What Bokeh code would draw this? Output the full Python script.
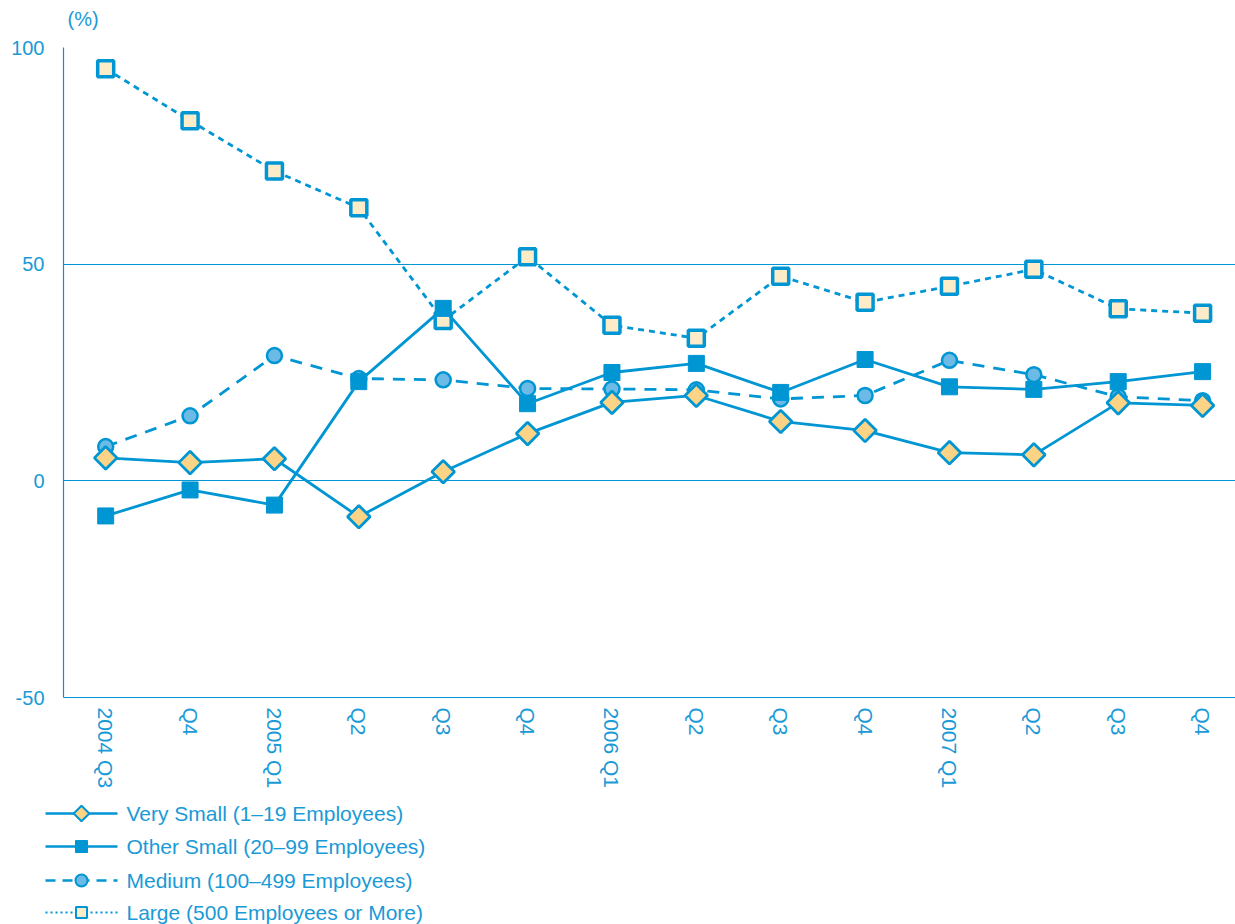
import numpy as np
from bokeh.plotting import figure
from bokeh.layouts import column
from bokeh.models import FixedTicker, ColumnDataSource
from bokeh.core.properties import value
from bokeh.embed import file_html
from bokeh.resources import INLINE

quarters = ["2004 Q3", "Q4", "2005 Q1", "Q2", "Q3", "Q4", "2006 Q1", "Q2", "Q3", "Q4",
            "2007 Q1", "Q2", "Q3", "Q4"]
very_small = [5.3, 4.2, 5.1, -8.3, 2.1, 10.9, 18.1, 19.7, 13.7, 11.6, 6.5, 6.0, 18.0, 17.4]
other_small = [-8.1, -2.1, -5.6, 22.9, 39.8, 17.8, 25.0, 27.1, 20.4, 28.0, 21.7, 21.1, 22.9, 25.2]
medium = [7.9, 15.0, 28.9, 23.6, 23.3, 21.3, 21.2, 21.0, 18.9, 19.7, 27.8, 24.5, 19.4, 18.5]
large = [95.1, 83.1, 71.5, 63.0, 37.0, 51.7, 35.9, 32.9, 47.2, 41.2, 44.9, 48.8, 39.7, 38.7]
names = ["Very Small (1\u201319 Employees)", "Other Small (20\u201399 Employees)",
         "Medium (100\u2013499 Employees)", "Large (500 Employees or More)"]
y_ticks = [-50, 0, 50, 100]
unit_label = "(%)"

BLUE = "#0095d3"
TXT = "#1a9ad6"
FONT = "Liberation Sans"
VS_FILL = "#fdd486"
MD_FILL = "#6cbbe6"
LG_FILL = "#feecc9"
W = 1235

x = list(range(len(quarters)))
src = ColumnDataSource(dict(x=x, vs=very_small, os=other_small, md=medium, lg=large))

# ---- unit label strip ----
t = figure(width=W, height=30, x_range=(0, W), y_range=(30, 0), output_backend="svg",
           toolbar_location=None, x_axis_type=None, y_axis_type=None, min_border=0)
t.frame_align = False
t.outline_line_color = None
t.grid.grid_line_color = None
t.text(x=[67], y=[18], text=[unit_label], text_baseline="middle", text_align="left",
       text_font=value(FONT), text_font_size="20px", text_color=TXT)

# ---- main chart ----
p = figure(width=W, height=763, x_range=(-0.5, 13.39), y_range=(-50, 100),
           output_backend="svg", toolbar_location=None,
           min_border_left=63, min_border_right=0, min_border_top=17, min_border_bottom=96)
p.outline_line_color = None

p.xaxis.ticker = FixedTicker(ticks=x)
p.xaxis.major_label_overrides = {i: q for i, q in enumerate(quarters)}
p.xaxis.major_label_orientation = "vertical"
p.yaxis.ticker = FixedTicker(ticks=y_ticks)
p.yaxis.major_label_overrides = {tk: str(tk) for tk in y_ticks}
for ax in (p.xaxis[0], p.yaxis[0]):
    ax.axis_line_color = BLUE
    ax.axis_line_width = 1.2
    ax.major_tick_line_color = None
    ax.minor_tick_line_color = None
    ax.major_label_text_color = TXT
    ax.major_label_text_font = FONT
p.yaxis.major_label_text_font_size = "20px"
p.xaxis.major_label_text_font_size = "21px"
p.xaxis.major_label_standoff = 4
p.yaxis.major_label_standoff = 13
p.xgrid.grid_line_color = None
p.ygrid.ticker = FixedTicker(ticks=[0, 50, 100])
p.ygrid.grid_line_color = BLUE
p.ygrid.grid_line_width = 1.2

LINE = dict(line_color=BLUE, line_width=2.8)
# Large
p.line("x", "lg", source=src, line_dash="6 5", **LINE)
p.scatter("x", "lg", source=src, marker="square", size=16, fill_color=LG_FILL,
          line_color=BLUE, line_width=3.5)
# Medium
p.line("x", "md", source=src, line_dash="12 9", **LINE)
p.scatter("x", "md", source=src, marker="circle", size=15, fill_color=MD_FILL,
          line_color=BLUE, line_width=2.5)
# Other small
p.line("x", "os", source=src, **LINE)
p.scatter("x", "os", source=src, marker="square", size=16, fill_color=BLUE,
          line_color=BLUE, line_width=1)
# Very small
p.line("x", "vs", source=src, **LINE)
p.scatter("x", "vs", source=src, marker="square", angle=np.pi / 4, size=16,
          fill_color=VS_FILL, line_color=BLUE, line_width=2.8)

# ---- legend strip (drawn as a key) ----
H_LEG = 131
q = figure(width=W, height=H_LEG, x_range=(0, W), y_range=(H_LEG, 0), output_backend="svg",
           toolbar_location=None, x_axis_type=None, y_axis_type=None, min_border=0)
q.frame_align = False
q.outline_line_color = None
q.grid.grid_line_color = None

rows = [20, 53, 87, 119]
x0, x1, xm, xt = 45, 117, 81, 126
dashes = ["solid", "solid", "10 7", "2 3"]
widths = [2.5, 2.5, 2.5, 2]
for r, d, w in zip(rows, dashes, widths):
    q.segment(x0=[x0], y0=[r], x1=[x1], y1=[r], line_color=BLUE, line_width=w, line_dash=d)
q.scatter(x=[xm], y=[rows[0]], marker="square", angle=np.pi / 4, size=11,
          fill_color=VS_FILL, line_color=BLUE, line_width=2)
q.scatter(x=[xm], y=[rows[1]], marker="square", size=12, fill_color=BLUE,
          line_color=BLUE, line_width=1)
q.scatter(x=[xm], y=[rows[2]], marker="circle", size=12, fill_color=MD_FILL,
          line_color=BLUE, line_width=2)
q.scatter(x=[xm], y=[rows[3]], marker="square", size=11, fill_color=LG_FILL,
          line_color=BLUE, line_width=2)
q.text(x=[xt] * 4, y=rows, text=names, text_baseline="middle", text_align="left",
       text_font=value(FONT), text_font_size="21px", text_color=TXT)

layout = column(t, p, q, spacing=0)
open("out.html", "w").write(file_html(layout, INLINE))
